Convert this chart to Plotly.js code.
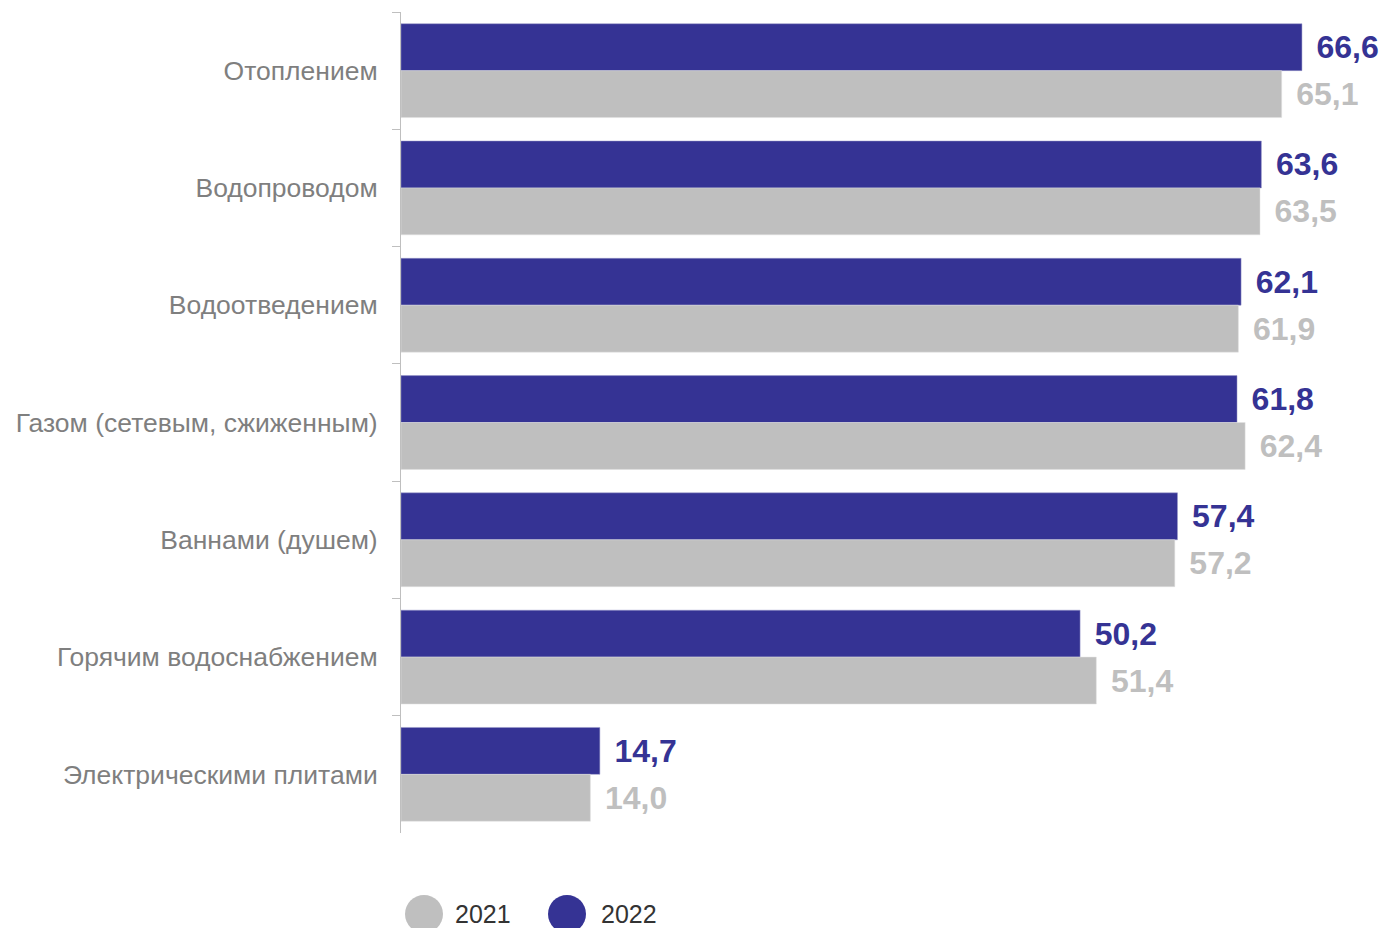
<!DOCTYPE html>
<html>
<head>
<meta charset="utf-8">
<script src="https://cdn.plot.ly/plotly-3.0.1.min.js"></script>
<style>html,body{margin:0;padding:0;background:#fff;}#chart{width:1389px;height:928px;}</style>
</head>
<body>
<div id="chart"></div>
<script>
const categories = [
  "Отоплением",
  "Водопроводом",
  "Водоотведением",
  "Газом (сетевым, сжиженным)",
  "Ваннами (душем)",
  "Горячим водоснабжением",
  "Электрическими плитами"
];
const values2022 = [66.6, 63.6, 62.1, 61.8, 57.4, 50.2, 14.7];
const values2021 = [65.1, 63.5, 61.9, 62.4, 57.2, 51.4, 14.0];
const seriesNames = ["2021", "2022"];

const BLUE = "#353394";
const GRAY = "#BFBFBF";
const FONT = "Liberation Sans, Arial, sans-serif";
const fmt = v => "\u00A0\u200A" + v.toFixed(1).replace(".", ",");

const traces = [
  {
    type: "bar", orientation: "h", name: seriesNames[1],
    y: categories, x: values2022,
    marker: {color: BLUE, line: {color: "#9a9ac8", width: 0.5}},
    text: values2022.map(fmt), textposition: "outside", cliponaxis: false,
    constraintext: "none",
    textfont: {family: FONT, size: 32, color: BLUE, weight: "bold"},
    hoverinfo: "skip", showlegend: false
  },
  {
    type: "bar", orientation: "h", name: seriesNames[0],
    y: categories, x: values2021,
    marker: {color: GRAY, line: {color: "#e0e0e0", width: 0.5}},
    text: values2021.map(fmt), textposition: "outside", cliponaxis: false,
    constraintext: "none",
    textfont: {family: FONT, size: 32, color: GRAY, weight: "bold"},
    hoverinfo: "skip", showlegend: false
  }
];

const W = 1389, H = 928, ML = 401, MR = 14, MT = 12, MB = 95;
const pw = W - ML - MR, ph = H - MT - MB;
const px = x => (x - ML) / pw;
const py = y => (H - MB - y) / ph;

const legendItems = [
  {name: seriesNames[0], color: GRAY, cx: 424, tx: 453},
  {name: seriesNames[1], color: BLUE, cx: 567, tx: 599}
];
const shapes = legendItems.map(it => ({
  type: "circle", xref: "paper", yref: "paper",
  xsizemode: "pixel", ysizemode: "pixel",
  xanchor: px(it.cx), yanchor: py(914),
  x0: -19, x1: 19, y0: -19, y1: 19,
  fillcolor: it.color, line: {width: 0}
}));
const annotations = legendItems.map(it => ({
  xref: "paper", yref: "paper", x: px(it.tx), y: py(914),
  xanchor: "left", yanchor: "middle", showarrow: false,
  text: it.name, font: {family: FONT, size: 25, color: "#333333"}
}));

const layout = {
  width: W, height: H,
  margin: {l: ML, r: MR, t: MT, b: MB},
  paper_bgcolor: "#ffffff", plot_bgcolor: "#ffffff",
  barmode: "group", bargap: 0.2, bargroupgap: 0,
  showlegend: false,
  font: {family: FONT},
  xaxis: {range: [0, 72], visible: false, showgrid: false, zeroline: false, fixedrange: true},
  yaxis: {
    type: "category", autorange: "reversed",
    showline: true, linecolor: "#bfbfbf", linewidth: 1,
    ticks: "outside", tickson: "boundaries", ticklen: 8, tickcolor: "#bfbfbf",
    ticklabelstandoff: 17,
    tickfont: {family: FONT, size: 26.5, color: "#7f7f7f"},
    showgrid: false, zeroline: false, fixedrange: true
  },
  shapes: shapes,
  annotations: annotations
};

Plotly.newPlot("chart", traces, layout, {displayModeBar: false, staticPlot: true});
</script>
</body>
</html>
